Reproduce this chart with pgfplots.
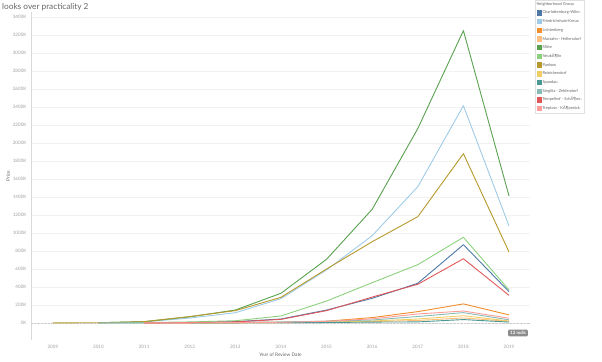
\documentclass[border=0pt]{standalone}
\usepackage{pgfplots}
\pgfplotsset{compat=1.18}
\usepackage{fontspec}
\setmainfont{Lato}
\definecolor{cCharl}{HTML}{4E79A7}
\definecolor{cFried}{HTML}{A0CBE8}
\definecolor{cLicht}{HTML}{F28E2B}
\definecolor{cMarz}{HTML}{FFBE7D}
\definecolor{cMitte}{HTML}{59A14F}
\definecolor{cNeuk}{HTML}{8CD17D}
\definecolor{cPank}{HTML}{B6992D}
\definecolor{cReini}{HTML}{F1CE63}
\definecolor{cSpan}{HTML}{499894}
\definecolor{cSteg}{HTML}{86BCB6}
\definecolor{cTemp}{HTML}{E15759}
\definecolor{cTrep}{HTML}{FF9D9A}
\definecolor{tickgray}{HTML}{A0A0A0}
\definecolor{labgray}{HTML}{666666}
\begin{document}
\begin{tikzpicture}
\useasboundingbox (0bp,0bp) rectangle (602bp,362bp);
\node[anchor=west, text=labgray, font=\fontsize{8.3}{9}\selectfont, inner sep=0pt] at (2bp,355bp) {looks over practicality 2};
\begin{axis}[
  at={(31bp,22bp)}, anchor=south west,
  scale only axis, width=499bp, height=328bp,
  xmin=2008.52, xmax=2019.46,
  ymin=-189, ymax=3455,
  xtick={2009,...,2019},
  ytick={0,200,...,3400},
  /pgf/number format/1000 sep={},
  /pgf/number format/assume math mode=true,
  yticklabel={\pgfmathprintnumber{\tick}K},
  xticklabel={\pgfmathprintnumber{\tick}},
  tick style={draw=none},
  ticklabel style={text=tickgray, font=\fontsize{4.6}{5}\selectfont},
  yticklabel style={xshift=-1bp},
  xticklabel style={yshift=-1.5bp},
  ymajorgrids, grid style={draw=black!5, line width=0.4bp},
  axis line style={draw=none},
  xlabel={Year of Review Date},
  ylabel={Price},
  label style={text=labgray, font=\fontsize{4.8}{5}\selectfont},
  xlabel style={at={(axis description cs:0.5,0)}, anchor=north, yshift=-9bp},
  ylabel style={at={(axis description cs:-0.046,0.5)}, anchor=center},
  every axis plot/.append style={line width=0.9bp, line join=round},
  legend style={at={(1,1)}, anchor=north west, xshift=5bp, yshift=12bp,
    draw=black!12, line width=0.4bp,
    font=\fontsize{4}{4}\selectfont, text=labgray,
    nodes={inner sep=0.4bp, text height=3bp, text depth=1bp},
    row sep=3.3bp, inner xsep=1.5bp, inner ysep=2bp},
  legend cell align=left,
  legend image code/.code={\fill[#1, draw=none] (0bp,-2.7bp) rectangle (5.4bp,2.7bp);},
  clip=false,
]
\draw[black!15, line width=0.4bp] (rel axis cs:0,0) -- (rel axis cs:0,1);
\draw[black!20, line width=0.4bp, densely dotted] (axis cs:2008.52,0) -- (axis cs:2019.46,0);
\addlegendimage{empty legend}
\addlegendentry{\hspace{-6bp}Neighborhood Group}
\addplot[cCharl] coordinates {(2011,2) (2012,6) (2013,15) (2014,44) (2015,144) (2016,274) (2017,441) (2018,870) (2019,348)};
\addlegendentry{Charlottenburg-Wilm.}
\addplot[cFried] coordinates {(2010,2) (2011,12) (2012,55) (2013,114) (2014,270) (2015,589) (2016,970) (2017,1514) (2018,2414) (2019,1078)};
\addlegendentry{Friedrichshain-Kreuz.}
\addplot[cLicht] coordinates {(2011,1) (2012,2) (2013,4) (2014,8) (2015,20) (2016,60) (2017,126) (2018,212) (2019,90)};
\addlegendentry{Lichtenberg}
\addplot[cMarz] coordinates {(2012,1) (2013,2) (2014,4) (2015,8) (2016,16) (2017,28) (2018,56) (2019,18)};
\addlegendentry{Marzahn - Hellersdorf}
\addplot[cMitte] coordinates {(2010,3) (2011,15) (2012,68) (2013,144) (2014,330) (2015,708) (2016,1263) (2017,2160) (2018,3248) (2019,1411)};
\addlegendentry{Mitte}
\addplot[cNeuk] coordinates {(2010,2) (2011,5) (2012,12) (2013,25) (2014,78) (2015,244) (2016,448) (2017,648) (2018,952) (2019,367)};
\addlegendentry{NeukÃ¶lln}
\addplot[cPank] coordinates {(2009,1) (2010,3) (2011,15) (2012,72) (2013,137) (2014,285) (2015,600) (2016,903) (2017,1181) (2018,1881) (2019,789)};
\addlegendentry{Pankow}
\addplot[cReini] coordinates {(2012,1) (2013,2) (2014,5) (2015,10) (2016,22) (2017,44) (2018,81) (2019,22)};
\addlegendentry{Reinickendorf}
\addplot[cSpan] coordinates {(2012,1) (2013,2) (2014,3) (2015,5) (2016,10) (2017,12) (2018,38) (2019,10)};
\addlegendentry{Spandau}
\addplot[cSteg] coordinates {(2010,1) (2011,2) (2012,4) (2013,7) (2014,12) (2015,20) (2016,33) (2017,72) (2018,115) (2019,35)};
\addlegendentry{Steglitz - Zehlendorf}
\addplot[cTemp] coordinates {(2011,1) (2012,4) (2013,12) (2014,40) (2015,137) (2016,288) (2017,430) (2018,714) (2019,307)};
\addlegendentry{Tempelhof - SchÃ¶ne..}
\addplot[cTrep] coordinates {(2011,1) (2012,2) (2013,4) (2014,8) (2015,18) (2016,46) (2017,100) (2018,133) (2019,53)};
\addlegendentry{Treptow - KÃ¶penick}
\end{axis}
\node[fill=black!45, text=white, rounded corners=1bp, font=\bfseries\fontsize{4.5}{5}\selectfont, inner xsep=2bp, inner ysep=1.2bp, text height=3.5bp, text depth=1bp] at (518bp,29bp) {12 nulls};
\end{tikzpicture}
\end{document}
